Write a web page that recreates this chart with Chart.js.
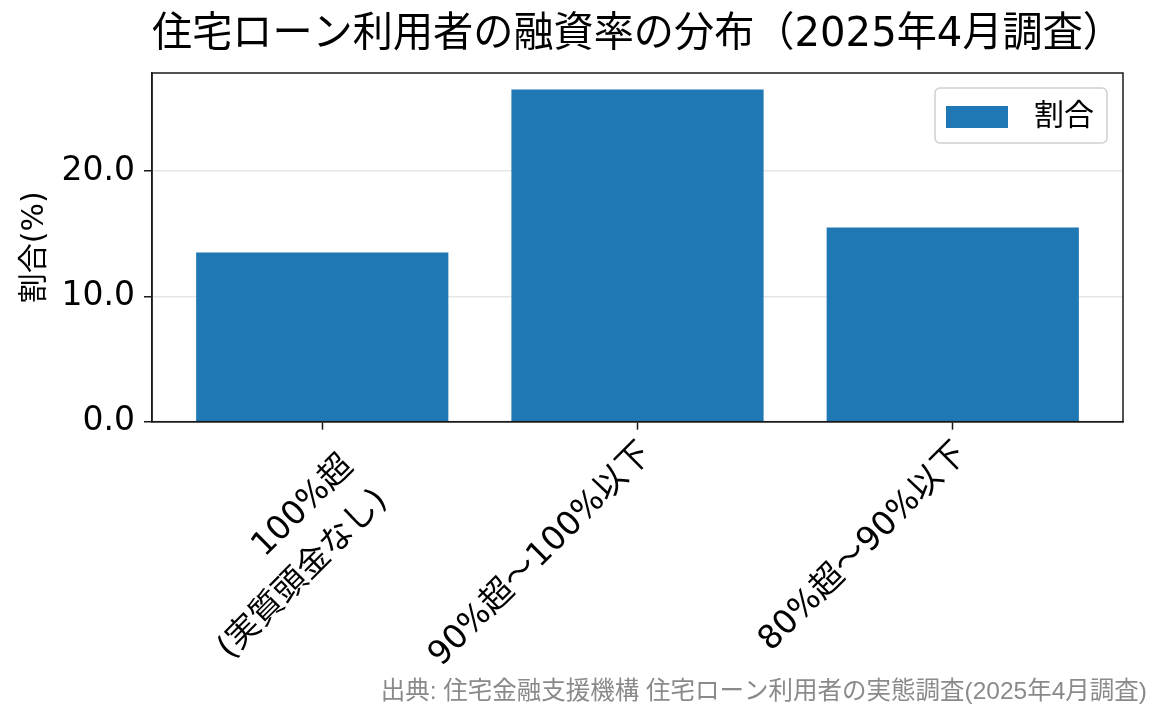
<!DOCTYPE html>
<html><head><meta charset="utf-8">
<script src="https://cdn.jsdelivr.net/npm/chart.js@4.4.1/dist/chart.umd.min.js"></script>
<style>html,body{margin:0;padding:0;background:#fff}#wrap{width:1165px;height:725px}</style>
</head><body><div id="wrap"><canvas id="c" width="1165" height="725"></canvas></div>
<script>
// ---- data ----
const categories = [["100%超", "(実質頭金なし)"], ["90%超～100%以下"], ["80%超～90%以下"]];
const shares = [13.5, 26.5, 15.5];
const yTickValues = [0, 10, 20];
const seriesLabel = "割合";
const titleText = "住宅ローン利用者の融資率の分布（2025年4月調査）";
const yAxisLabel = "割合(%)";
const sourceText = "出典: 住宅金融支援機構 住宅ローン利用者の実態調査(2025年4月調査)";

const FONT = '"DejaVu Sans", "Noto Sans CJK JP", sans-serif';
const SRC_FONT = '"Liberation Sans", "Noto Sans CJK JP", sans-serif';
const yMax = Math.max(...shares) * 1.05;
const xMin = -0.4 - 0.05 * (categories.length - 0.2);
const xMax = categories.length - 1 + 0.4 + 0.05 * (categories.length - 0.2);

const frame = {
  id: 'frame',
  afterDraw(chart) {
    const {ctx, chartArea: a} = chart;
    ctx.save();
    ctx.strokeStyle = '#1a1a1a'; ctx.lineWidth = 1.5;
    ctx.strokeRect(a.left, a.top, a.right - a.left, a.bottom - a.top);
    ctx.restore();
  }
};

const xLabels = {
  id: 'xLabels',
  afterDraw(chart) {
    const {ctx} = chart;
    const sx = chart.scales.x;
    const fs = 33, lh = 48;
    ctx.save();
    ctx.font = fs + 'px ' + FONT;
    ctx.fillStyle = '#000';
    ctx.textAlign = 'right';
    ctx.textBaseline = 'top';
    categories.forEach((lines, i) => {
      const px = sx.getPixelForValue(i);
      const n = lines.length;
      ctx.save();
      ctx.translate(px - 1, sx.top + 17);
      ctx.rotate(-Math.PI / 4);
      const du = (n - 1) * 3, dv = (n - 1) * 21;
      lines.forEach((t, j) => ctx.fillText(t, du, dv + j * lh - 2));
      ctx.restore();
    });
    ctx.restore();
  }
};

const legendBox = {
  id: 'legendBox',
  afterDraw(chart) {
    const {ctx, chartArea: a} = chart;
    const ds = chart.data.datasets[0];
    const w = 172, h = 55;
    const x = a.right - 16 - w, y = a.top + 15;
    ctx.save();
    ctx.beginPath();
    ctx.roundRect(x, y, w, h, 5);
    ctx.fillStyle = 'rgba(255,255,255,0.85)';
    ctx.fill();
    ctx.strokeStyle = '#d0d0d0'; ctx.lineWidth = 1.5;
    ctx.stroke();
    ctx.fillStyle = ds.backgroundColor;
    ctx.fillRect(x + 11, y + 18, 62, 22);
    ctx.fillStyle = '#000';
    ctx.font = '30px ' + FONT;
    ctx.textAlign = 'left'; ctx.textBaseline = 'middle';
    ctx.fillText(ds.label, x + 99, y + 29);
    ctx.restore();
  }
};

new Chart(document.getElementById('c'), {
  type: 'bar',
  data: {
    datasets: [{
      label: seriesLabel,
      data: shares.map((v, i) => ({x: i, y: v})),
      backgroundColor: '#1f77b4',
      borderWidth: 0,
      barPercentage: 1.0,
      categoryPercentage: 0.8
    }]
  },
  options: {
    responsive: false,
    animation: false,
    devicePixelRatio: 1,
    layout: {padding: {left: 0, right: 18, top: 0, bottom: 0}},
    plugins: {
      legend: {display: false},
      tooltip: {enabled: false},
      title: {
        display: true, text: titleText, fullSize: false,
        color: '#000', font: {family: FONT, size: 41, weight: 'normal', lineHeight: 1.2},
        padding: {top: 11, bottom: 12.8}
      },
      subtitle: {
        display: true, text: sourceText, position: 'bottom', align: 'end', fullSize: true,
        color: '#8a8a8a', font: {family: SRC_FONT, size: 24.5, weight: 'normal', lineHeight: 1.2},
        padding: {top: 0, bottom: 18}
      }
    },
    scales: {
      x: {
        type: 'linear', position: 'bottom', min: xMin, max: xMax, offset: false, z: 1,
        grid: {display: true, drawOnChartArea: false, drawTicks: true, tickLength: 8,
               tickColor: '#1a1a1a', tickWidth: 1.5, offset: false},
        border: {display: true, color: '#1a1a1a', width: 1.5},
        ticks: {display: false, stepSize: 1, includeBounds: false, autoSkip: false},
        afterBuildTicks: s => { s.ticks = categories.map((c, i) => ({value: i})); },
        afterFit: s => { s.height = 725 - 421.7 - (24.5 * 1.2 + 18); }
      },
      y: {
        min: 0, max: yMax, z: 1,
        afterBuildTicks: s => { s.ticks = yTickValues.map(v => ({value: v})); },
        ticks: {color: '#000', font: {family: FONT, size: 33}, padding: 9,
                callback: v => Number(v).toFixed(1)},
        grid: {color: 'rgba(170,170,170,0.3)', lineWidth: 1.5, drawTicks: true, tickLength: 8,
               tickColor: '#1a1a1a', tickWidth: 1.5},
        border: {display: true, color: '#1a1a1a', width: 1.5},
        title: {display: true, text: yAxisLabel, color: '#000',
                font: {family: FONT, size: 30}, padding: {top: 17, bottom: 0}},
        afterFit: s => { s.width = 152; }
      },
      y2: {
        position: 'right', display: true, min: 0, max: 1,
        grid: {display: false, drawTicks: false}, border: {display: false},
        ticks: {display: false},
        afterFit: s => { s.width = 24; }
      }
    }
  },
  plugins: [frame, xLabels, legendBox]
});
</script>
</body></html>
